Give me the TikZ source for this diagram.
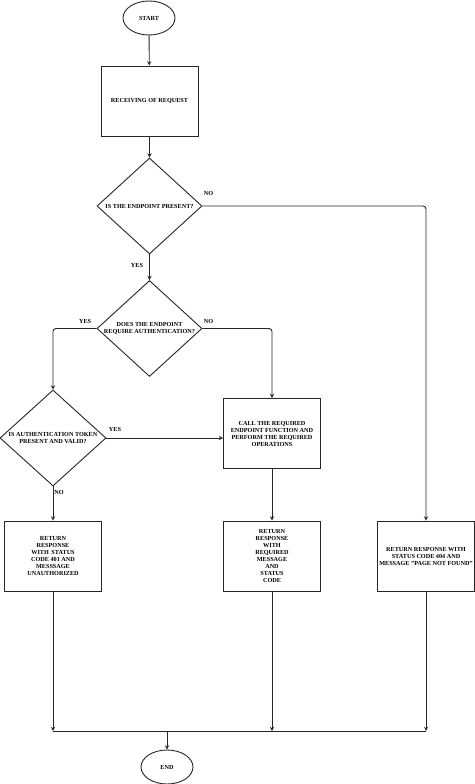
\documentclass[tikz,border=0pt]{standalone}
\usepackage{fontspec}
\setmainfont{Liberation Serif}
\usetikzlibrary{arrows,positioning,shapes}

\begin{document}
\begin{tikzpicture}[x=1pt,y=-1pt,->,>=stealth,auto,line width=0.9pt,
                draw=black!85,
                txt/.style={font=\bfseries\fontsize{6.2}{7}\selectfont,align=center},
                term/.style={ellipse,draw,txt,minimum width=52pt,minimum height=34pt,inner sep=0pt},
                block/.style={rectangle,draw,txt,minimum width=97pt,minimum height=70pt,inner sep=1pt},
                decision/.style={diamond,draw,minimum width=105pt,minimum height=96pt,inner sep=0pt},
                lbl/.style={txt,inner sep=1pt}]
  \useasboundingbox (0,0) rectangle (474,784);

  \node[term] (start) at (149,18) {START};
  \node[block] (recv) at (149.5,101) {RECEIVING OF REQUEST};
  \node[decision,label={[txt]center:IS THE ENDPOINT PRESENT?}] (present) at (149.5,206) {};
  \node[decision,label={[txt]center:DOES THE ENDPOINT\\REQUIRE AUTHENTICATION?}] (needauth) at (149.5,328.5) {};
  \node[decision,minimum width=106pt,label={[txt]center:IS AUTHENTICATION TOKEN\\PRESENT AND VALID?}] (token) at (53,438) {};
  \node[block] (call) at (272,433.5) {CALL THE REQUIRED\\ENDPOINT FUNCTION AND\\PERFORM THE REQUIRED\\OPERATIONS};
  \node[block] (unauth) at (53,556) {RETURN\\RESPONSE\\WITH\, STATUS\\CODE 401 AND\\MESSSAGE\\UNAUTHORIZED};
  \node[block] (ok) at (272,556) {RETURN\\RESPONSE\\WITH\\REQUIRED\\MESSAGE\\AND\\STATUS\\CODE};
  \node[block] (notfound) at (426,556) {RETURN RESPONSE WITH\\STATUS CODE 404 AND\\MESSAGE "PAGE NOT FOUND"};
  \node[term] (end) at (167,767) {END};
  \coordinate (join) at (167,731);

  % yes / no labels
  \node[lbl,above right=9pt and 0pt of present.east] (presentno) {NO};
  \node[lbl,above left=3pt and 4pt of needauth.west] (needauthyes) {YES};
  \node[lbl,above right=3pt and 0pt of needauth.east] (needauthno) {NO};
  \node[lbl,above right=5pt and 1pt of token.east] (tokenyes) {YES};
  \node[lbl,below right=2pt and 0pt of token.south] (tokenno) {NO};

  \path
    (start) edge (recv)
    (recv) edge (present)
    (present) edge node[lbl,left=5pt,pos=0.42] {YES} (needauth)
    (token) edge (unauth)
    (call) edge (ok)
  ;
  \draw[rounded corners=3pt] (present.east) -| (notfound.north);
  \draw[rounded corners=3pt] (needauth.west) -| (token.north);
  \draw[rounded corners=3pt] (needauth.east) -| (call.north);
  \draw (token.east) -- (token.east -| call.west);

  % collecting lines at the bottom
  \draw (unauth.south) -- (unauth.south |- join);
  \draw (ok.south) -- (ok.south |- join);
  \draw (notfound.south) -- (notfound.south |- join);
  \draw[-] (unauth.south |- join) -- (notfound.south |- join);
  \draw (join) -- (end);
\end{tikzpicture}
\end{document}
